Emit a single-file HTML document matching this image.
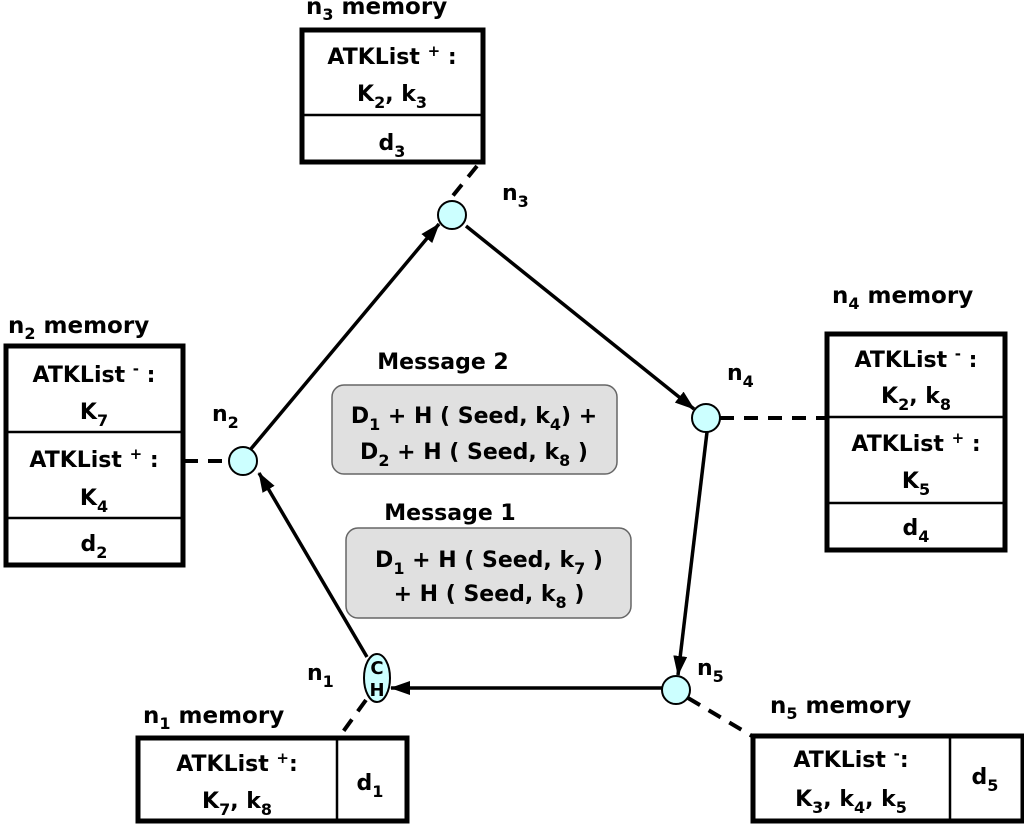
<!DOCTYPE html>
<html><head><meta charset="utf-8"><style>
html,body{margin:0;padding:0;background:#fff;}
svg text{font-family:"DejaVu Sans","Liberation Sans",sans-serif;font-weight:bold;fill:#000;}
</style></head><body>
<svg width="1024" height="825" viewBox="0 0 1024 825" xmlns="http://www.w3.org/2000/svg">
<defs>
<marker id="a" viewBox="0 0 20 14" refX="19" refY="7" markerWidth="20" markerHeight="14" orient="auto" markerUnits="userSpaceOnUse"><path d="M0,0 L20,7 L0,14 z" fill="#000"/></marker>
</defs>

<g stroke="#000" stroke-width="4" stroke-dasharray="14,10" fill="none">
<line x1="477" y1="166" x2="447" y2="203"/>
<line x1="720" y1="418" x2="825" y2="418"/>
<line x1="184" y1="461" x2="228" y2="461"/>
<line x1="366" y1="700" x2="337" y2="740"/>
<line x1="688" y1="698" x2="752" y2="736"/>
</g>

<g stroke="#000" stroke-width="3.5" fill="none">
<line x1="250" y1="450" x2="439" y2="224" marker-end="url(#a)"/>
<line x1="466" y1="226" x2="694" y2="409" marker-end="url(#a)"/>
<line x1="707" y1="432" x2="678" y2="675" marker-end="url(#a)"/>
<line x1="662" y1="688" x2="391" y2="688" marker-end="url(#a)"/>
<line x1="367" y1="657" x2="259" y2="473" marker-end="url(#a)"/>
</g>

<g fill="#ccffff" stroke="#000" stroke-width="2">
<circle cx="452" cy="215" r="14"/>
<circle cx="706" cy="418" r="14"/>
<circle cx="676" cy="690" r="14"/>
<circle cx="243" cy="461" r="14"/>
<ellipse cx="377" cy="678" rx="13" ry="24"/>
</g>
<text x="377" y="674" font-size="18" text-anchor="middle">C</text>
<text x="377" y="696" font-size="18" text-anchor="middle">H</text>

<g font-size="22">
<text x="502" y="200">n<tspan font-size="16" dy="7">3</tspan></text>
<text x="727" y="380">n<tspan font-size="16" dy="7">4</tspan></text>
<text x="212" y="421">n<tspan font-size="16" dy="7">2</tspan></text>
<text x="307" y="680">n<tspan font-size="16" dy="7">1</tspan></text>
<text x="697" y="675">n<tspan font-size="16" dy="7">5</tspan></text>
</g>

<g fill="#fff" stroke="#000" stroke-width="5">
<rect x="302" y="30" width="181" height="132"/>
<rect x="6" y="346" width="177" height="219"/>
<rect x="827" y="334" width="178" height="216"/>
<rect x="138" y="738" width="269" height="83"/>
<rect x="753" y="736" width="270" height="85"/>
</g>
<g stroke="#000" stroke-width="2.5">
<line x1="302" y1="115" x2="483" y2="115"/>
<line x1="6" y1="432" x2="183" y2="432"/>
<line x1="6" y1="518" x2="183" y2="518"/>
<line x1="827" y1="417" x2="1005" y2="417"/>
<line x1="827" y1="503" x2="1005" y2="503"/>
<line x1="337" y1="738" x2="337" y2="821"/>
<line x1="950" y1="736" x2="950" y2="821"/>
</g>

<g font-size="23">
<text x="306" y="14">n<tspan font-size="16" dy="6">3</tspan><tspan dy="-6"> memory</tspan></text>
<text x="8" y="333">n<tspan font-size="16" dy="6">2</tspan><tspan dy="-6"> memory</tspan></text>
<text x="832" y="303">n<tspan font-size="16" dy="6">4</tspan><tspan dy="-6"> memory</tspan></text>
<text x="143" y="723">n<tspan font-size="16" dy="6">1</tspan><tspan dy="-6"> memory</tspan></text>
<text x="770" y="713">n<tspan font-size="16" dy="6">5</tspan><tspan dy="-6">  memory</tspan></text>
</g>

<g font-size="22" text-anchor="middle">
<text x="392" y="64">ATKList <tspan font-size="15" dy="-8">+</tspan><tspan dy="8"> :</tspan></text>
<text x="392" y="101">K<tspan font-size="16" dy="7">2</tspan><tspan dy="-7">, k</tspan><tspan font-size="16" dy="7">3</tspan></text>
<text x="392" y="150">d<tspan font-size="16" dy="7">3</tspan></text>
<text x="94" y="382">ATKList <tspan font-size="15" dy="-8">-</tspan><tspan dy="8"> :</tspan></text>
<text x="94" y="419">K<tspan font-size="16" dy="7">7</tspan></text>
<text x="94" y="467">ATKList <tspan font-size="15" dy="-8">+</tspan><tspan dy="8"> :</tspan></text>
<text x="94" y="505">K<tspan font-size="16" dy="7">4</tspan></text>
<text x="94" y="551">d<tspan font-size="16" dy="7">2</tspan></text>
<text x="916" y="367">ATKList <tspan font-size="15" dy="-8">-</tspan><tspan dy="8"> :</tspan></text>
<text x="916" y="403">K<tspan font-size="16" dy="7">2</tspan><tspan dy="-7">, k</tspan><tspan font-size="16" dy="7">8</tspan></text>
<text x="916" y="451">ATKList <tspan font-size="15" dy="-8">+</tspan><tspan dy="8"> :</tspan></text>
<text x="916" y="488">K<tspan font-size="16" dy="7">5</tspan></text>
<text x="916" y="535">d<tspan font-size="16" dy="7">4</tspan></text>
<text x="237" y="771">ATKList <tspan font-size="15" dy="-8">+</tspan><tspan dy="8">:</tspan></text>
<text x="237" y="808">K<tspan font-size="16" dy="7">7</tspan><tspan dy="-7">, k</tspan><tspan font-size="16" dy="7">8</tspan></text>
<text x="370" y="790">d<tspan font-size="16" dy="7">1</tspan></text>
<text x="851" y="767">ATKList <tspan font-size="15" dy="-8">-</tspan><tspan dy="8">:</tspan></text>
<text x="851" y="806">K<tspan font-size="16" dy="7">3</tspan><tspan dy="-7">, k</tspan><tspan font-size="16" dy="7">4</tspan><tspan dy="-7">, k</tspan><tspan font-size="16" dy="7">5</tspan></text>
<text x="985" y="784">d<tspan font-size="16" dy="7">5</tspan></text>
</g>

<rect x="332" y="385" width="285" height="89" rx="12" fill="#e0e0e0" stroke="#666" stroke-width="1.5"/>
<rect x="346" y="528" width="285" height="90" rx="12" fill="#e0e0e0" stroke="#666" stroke-width="1.5"/>
<g font-size="22" text-anchor="middle">
<text x="443" y="369">Message 2</text>
<text x="474" y="423">D<tspan font-size="16" dy="7">1</tspan><tspan dy="-7"> + H ( Seed, k</tspan><tspan font-size="16" dy="7">4</tspan><tspan dy="-7">) +</tspan></text>
<text x="474" y="459">D<tspan font-size="16" dy="7">2</tspan><tspan dy="-7"> + H ( Seed, k</tspan><tspan font-size="16" dy="7">8</tspan><tspan dy="-7"> )</tspan></text>
<text x="450" y="520">Message 1</text>
<text x="489" y="567">D<tspan font-size="16" dy="7">1</tspan><tspan dy="-7"> + H ( Seed, k</tspan><tspan font-size="16" dy="7">7</tspan><tspan dy="-7"> )</tspan></text>
<text x="489" y="601">+ H ( Seed, k<tspan font-size="16" dy="7">8</tspan><tspan dy="-7"> )</tspan></text>
</g>
</svg>
</body></html>
